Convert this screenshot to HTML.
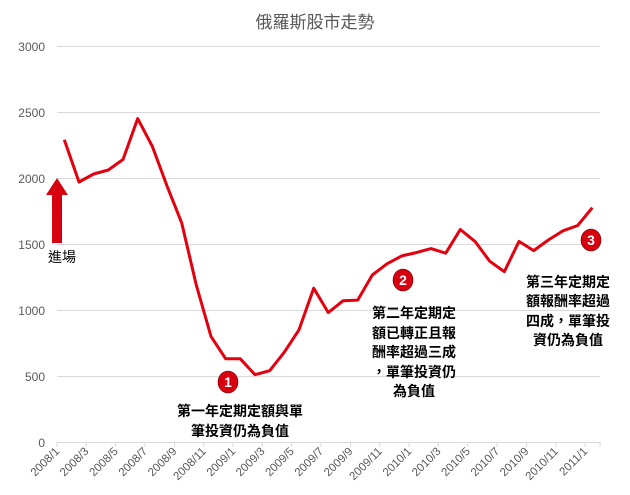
<!DOCTYPE html>
<html><head><meta charset="utf-8"><style>
body{margin:0;background:#fff;}
svg text{font-family:"Liberation Sans","Noto Sans CJK TC",sans-serif;}
</style></head><body>
<svg width="630" height="490" xmlns="http://www.w3.org/2000/svg">
<text x="315" y="28" text-anchor="middle" font-size="17" fill="#595959">俄羅斯股市走勢</text>
<g stroke="#d9d9d9" stroke-width="1">
<line x1="57" y1="46.5" x2="600" y2="46.5"/>
<line x1="57" y1="112.5" x2="600" y2="112.5"/>
<line x1="57" y1="178.5" x2="600" y2="178.5"/>
<line x1="57" y1="244.5" x2="600" y2="244.5"/>
<line x1="57" y1="310.5" x2="600" y2="310.5"/>
<line x1="57" y1="376.5" x2="600" y2="376.5"/>
<line x1="57" y1="442.5" x2="600" y2="442.5"/>
</g>
<g font-size="12" fill="#595959" text-anchor="end">
<text x="45" y="51">3000</text><text x="45" y="117">2500</text><text x="45" y="183">2000</text>
<text x="45" y="249">1500</text><text x="45" y="315">1000</text><text x="45" y="381">500</text><text x="45" y="447">0</text>
</g>
<g stroke="#d9d9d9">
<line x1="57" y1="442" x2="57" y2="447"/><line x1="86.3" y1="442" x2="86.3" y2="447"/><line x1="115.7" y1="442" x2="115.7" y2="447"/><line x1="145" y1="442" x2="145" y2="447"/><line x1="174.4" y1="442" x2="174.4" y2="447"/><line x1="203.7" y1="442" x2="203.7" y2="447"/><line x1="233" y1="442" x2="233" y2="447"/><line x1="262.4" y1="442" x2="262.4" y2="447"/><line x1="291.7" y1="442" x2="291.7" y2="447"/><line x1="321" y1="442" x2="321" y2="447"/><line x1="350.4" y1="442" x2="350.4" y2="447"/><line x1="379.7" y1="442" x2="379.7" y2="447"/><line x1="409.1" y1="442" x2="409.1" y2="447"/><line x1="438.4" y1="442" x2="438.4" y2="447"/><line x1="467.8" y1="442" x2="467.8" y2="447"/><line x1="497.1" y1="442" x2="497.1" y2="447"/><line x1="526.4" y1="442" x2="526.4" y2="447"/><line x1="555.8" y1="442" x2="555.8" y2="447"/><line x1="585.1" y1="442" x2="585.1" y2="447"/><line x1="600" y1="442" x2="600" y2="447"/>
</g>
<g font-size="11.5" fill="#595959" text-anchor="end">
<text transform="translate(60,452) rotate(-45)">2008/1</text>
<text transform="translate(89.3,452) rotate(-45)">2008/3</text>
<text transform="translate(118.7,452) rotate(-45)">2008/5</text>
<text transform="translate(148,452) rotate(-45)">2008/7</text>
<text transform="translate(177.4,452) rotate(-45)">2008/9</text>
<text transform="translate(206.7,452) rotate(-45)">2008/11</text>
<text transform="translate(236,452) rotate(-45)">2009/1</text>
<text transform="translate(265.4,452) rotate(-45)">2009/3</text>
<text transform="translate(294.7,452) rotate(-45)">2009/5</text>
<text transform="translate(324,452) rotate(-45)">2009/7</text>
<text transform="translate(353.4,452) rotate(-45)">2009/9</text>
<text transform="translate(382.7,452) rotate(-45)">2009/11</text>
<text transform="translate(412.1,452) rotate(-45)">2010/1</text>
<text transform="translate(441.4,452) rotate(-45)">2010/3</text>
<text transform="translate(470.8,452) rotate(-45)">2010/5</text>
<text transform="translate(500.1,452) rotate(-45)">2010/7</text>
<text transform="translate(529.4,452) rotate(-45)">2010/9</text>
<text transform="translate(558.8,452) rotate(-45)">2010/11</text>
<text transform="translate(588.1,452) rotate(-45)">2011/1</text>
</g>
<polyline fill="none" stroke="#e3000f" stroke-width="3" stroke-linejoin="round" points="64.3,139.7 79,182 93.7,174.0 108.3,170.0 123,159.5 137.7,118.6 152.3,146.3 167,185.9 181.7,222.9 196.3,285.1 211,336.4 225.7,358.8 240.3,358.8 255,374.7 269.7,370.7 284.3,352.2 299,329.8 313.7,288.2 328.3,312.6 343,300.8 357.7,300.1 372.3,275.0 387,263.8 401.7,255.9 416.3,252.6 431,248.6 445.7,253.2 460.3,229.5 475,241.4 489.7,261.2 504.3,271.7 519,241.4 533.7,250.6 548.3,240.0 563,230.8 577.7,225.5 592.3,207.7"/>
<polygon points="52,243 62,243 62,195 68,195 57,178 46,195 52,195" fill="#d7000f"/>
<text x="48" y="262" font-size="14" fill="#000">進場</text>
<g fill="#d7000f" stroke="#600" stroke-width="0.6">
<ellipse cx="228" cy="382" rx="10" ry="11"/><ellipse cx="403" cy="280" rx="10" ry="11"/><ellipse cx="591" cy="240" rx="10" ry="11"/>
</g>
<g fill="#fff" font-size="14" font-weight="bold" text-anchor="middle">
<text x="228" y="387">1</text><text x="403" y="285">2</text><text x="591" y="245">3</text>
</g>
<g font-size="14" fill="#000" text-anchor="middle" font-weight="bold">
<text x="240" y="416">第一年定期定額與單</text><text x="240" y="436">筆投資仍為負值</text>
<text x="414" y="318">第二年定期定</text><text x="414" y="338">額已轉正且報</text><text x="414" y="357">酬率超過三成</text><text x="414" y="377">，單筆投資仍</text><text x="414" y="396">為負值</text>
<text x="568" y="287">第三年定期定</text><text x="568" y="306">額報酬率超過</text><text x="568" y="326">四成，單筆投</text><text x="568" y="345">資仍為負值</text>
</g>
</svg>
</body></html>
